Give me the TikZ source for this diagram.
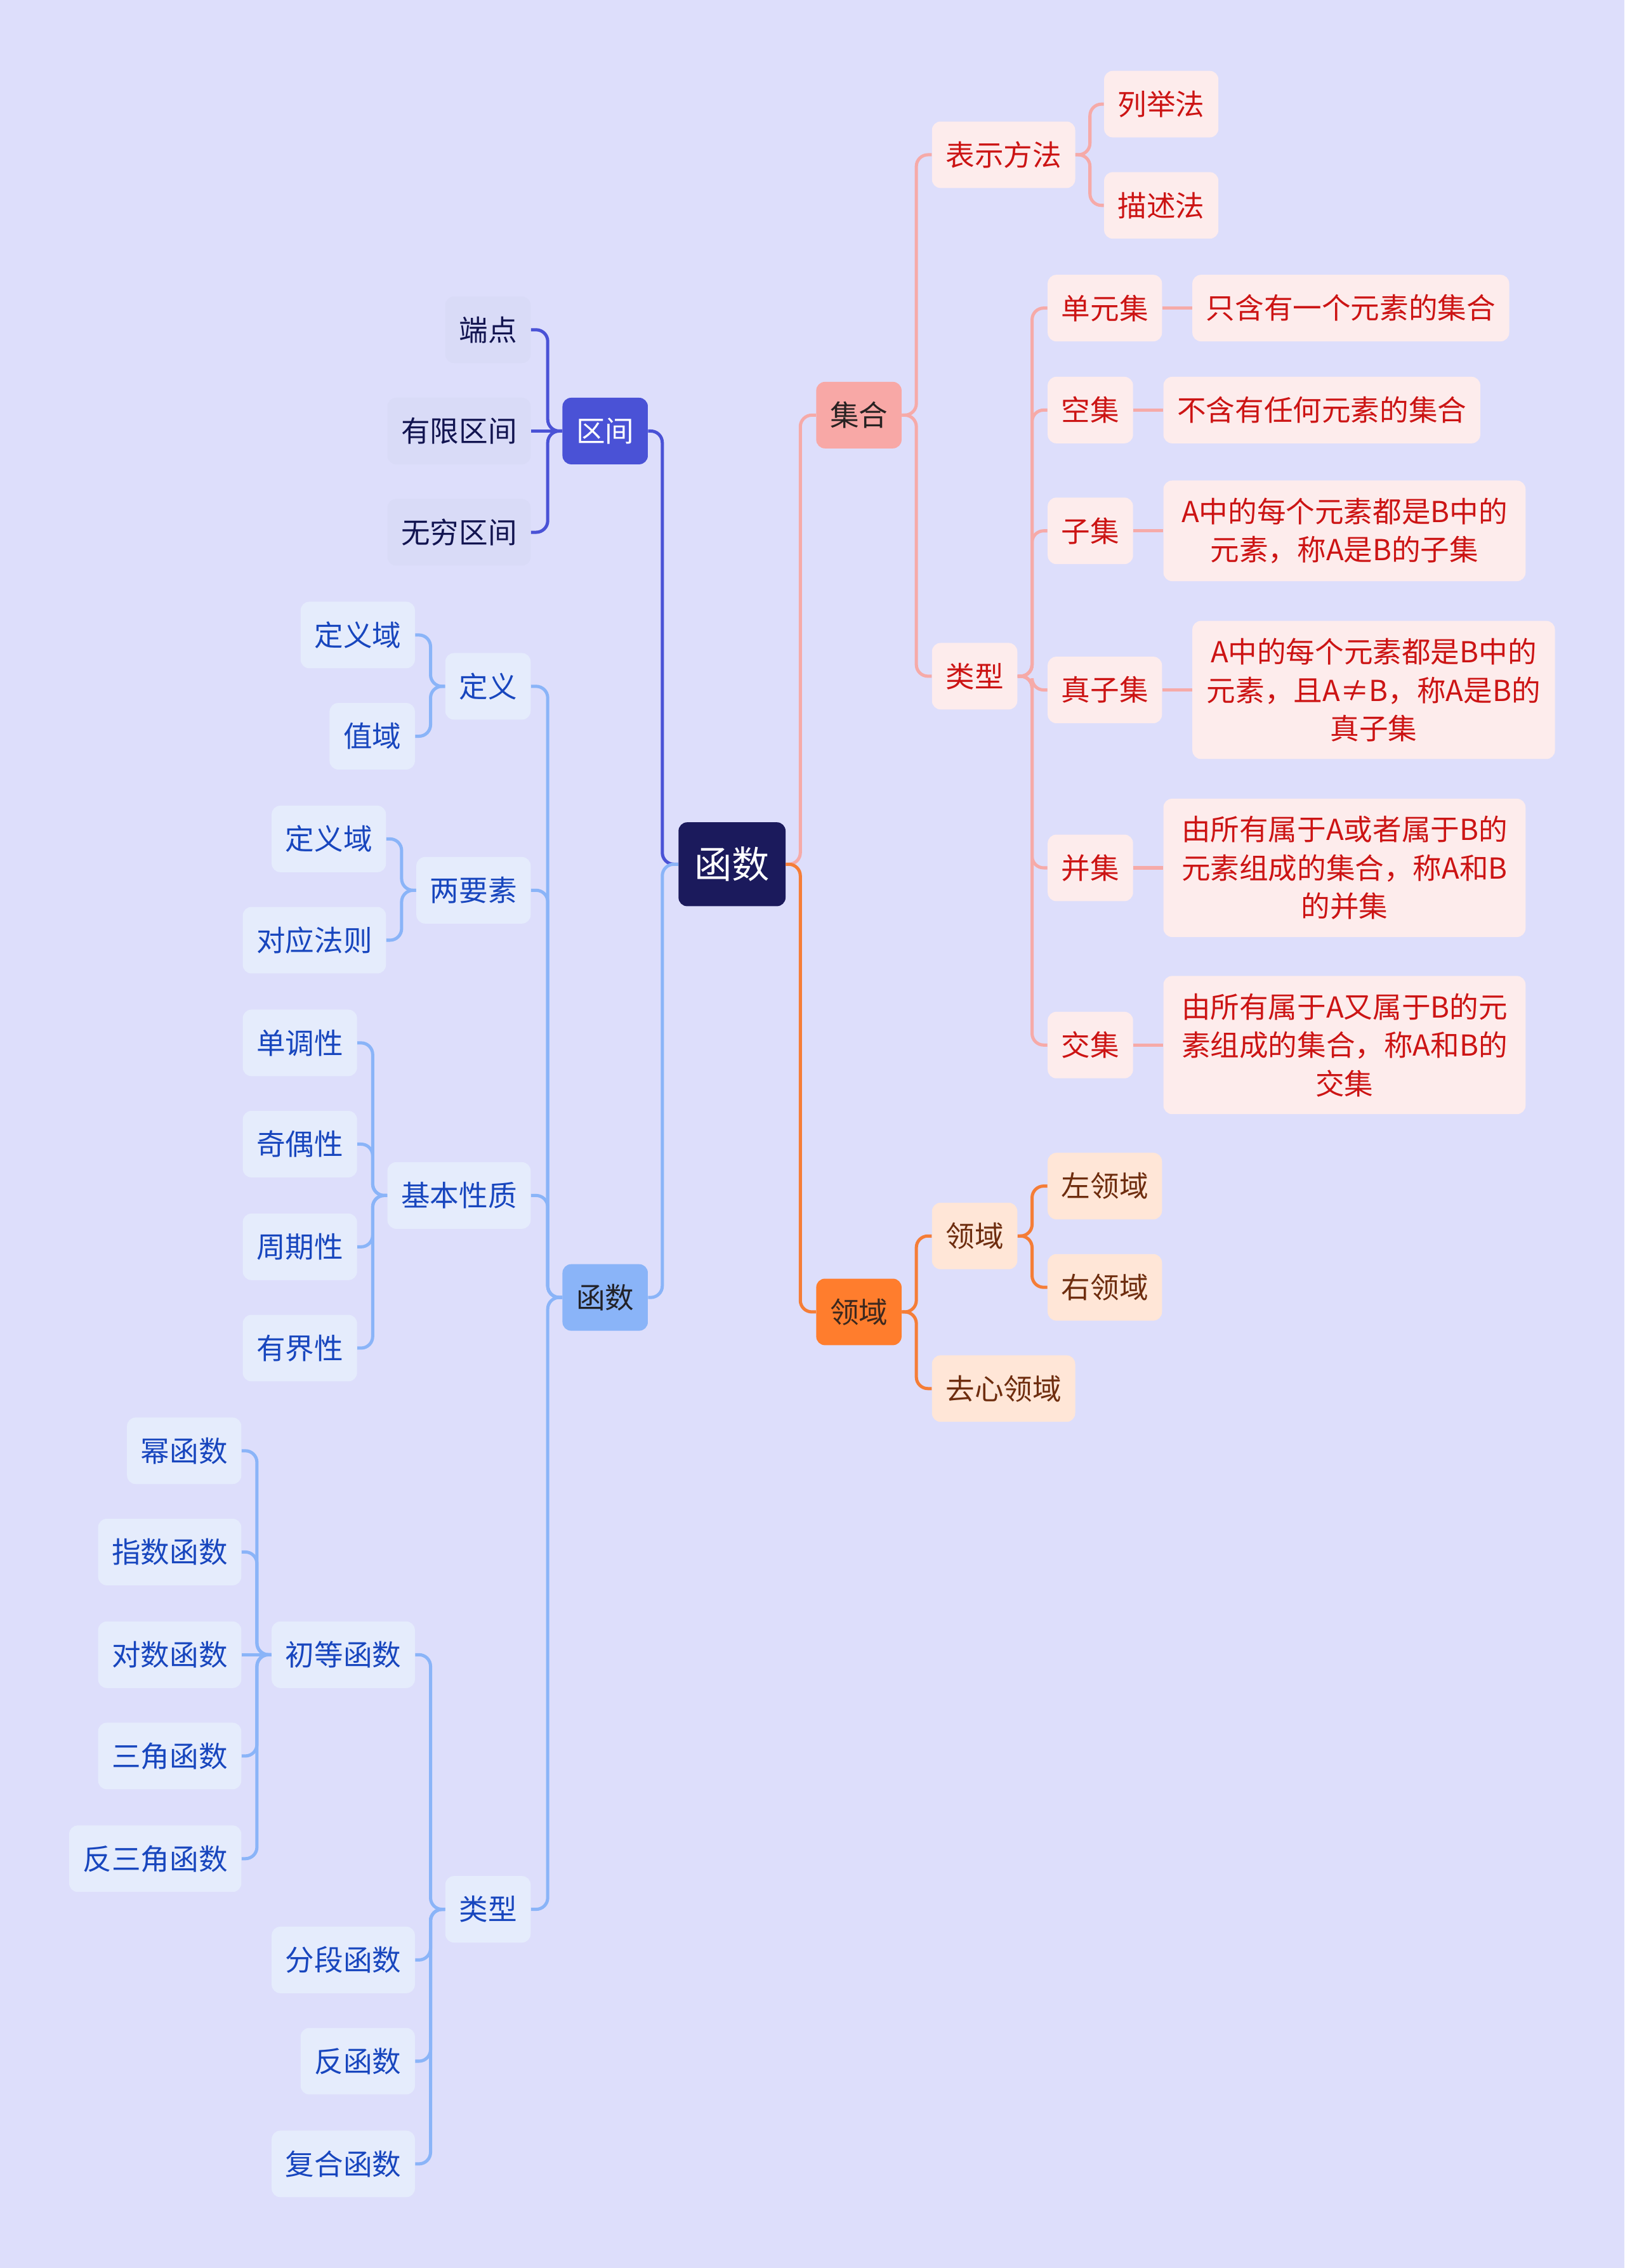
\documentclass[tikz,border=0pt]{standalone}
\usepackage{fontspec}
\setmainfont{Noto Sans CJK SC}
\definecolor{bgc}{RGB}{221,222,251}
\definecolor{rootc}{RGB}{27,26,92}
\definecolor{qjc}{RGB}{74,82,214}
\definecolor{qjleaf}{RGB}{217,219,247}
\definecolor{qjtext}{RGB}{18,20,80}
\definecolor{hsc}{RGB}{138,180,248}
\definecolor{hsleaf}{RGB}{229,236,252}
\definecolor{hstext}{RGB}{24,70,190}
\definecolor{hsdark}{RGB}{34,34,40}
\definecolor{jhc}{RGB}{248,168,166}
\definecolor{jhline}{RGB}{246,170,168}
\definecolor{jhleaf}{RGB}{253,236,236}
\definecolor{jhtext}{RGB}{204,20,20}
\definecolor{jhdark}{RGB}{40,34,34}
\definecolor{lyc}{RGB}{255,125,45}
\definecolor{lyline}{RGB}{245,125,55}
\definecolor{lyleaf}{RGB}{255,230,215}
\definecolor{lytext}{RGB}{110,45,15}
\definecolor{lydark}{RGB}{60,40,30}
\newcommand\lbranch[3]{\draw[#1] (#2.west) -- ++(-10,0) |- (#3.east);}
\newcommand\rbranch[3]{\draw[#1] (#2.east) -- ++(10,0) |- (#3.west);}
\begin{document}
\begin{tikzpicture}[x=1pt,y=-1pt,
  box/.style={rounded corners=6pt, minimum height=46pt, inner xsep=9.5pt, inner ysep=0pt, font=\fontsize{20}{26.5}\selectfont},
  multi/.style={box, align=center, inner ysep=12pt, inner xsep=12.5pt},
  rootbox/.style={rounded corners=6pt, fill=rootc, text=white, minimum height=58pt, inner xsep=11pt, font=\fontsize{26}{30}\selectfont},
  qjmain/.style={box, fill=qjc, text=white},
  qjsub/.style={box, fill=qjleaf, text=qjtext},
  hsmain/.style={box, fill=hsc, text=hsdark},
  hssub/.style={box, fill=hsleaf, text=hstext},
  jhmain/.style={box, fill=jhc, text=jhdark},
  jhsub/.style={box, fill=jhleaf, text=jhtext},
  lymain/.style={box, fill=lyc, text=lydark},
  lysub/.style={box, fill=lyleaf, text=lytext},
  cq/.style={draw=qjc, line width=2.2pt, rounded corners=8pt},
  ch/.style={draw=hsc, line width=2.2pt, rounded corners=8pt},
  cj/.style={draw=jhline, line width=2.2pt, rounded corners=8pt},
  cl/.style={draw=lyline, line width=2.2pt, rounded corners=8pt}
]
\fill[bgc] (0,0) rectangle (1123,1568);
\useasboundingbox (0,0) rectangle (1123,1568);

% root
\node[rootbox] (root) at (506,597.5) {函数};

% level 1
\node[qjmain, anchor=east] (qj) at (448,298) {区间};
\node[hsmain, anchor=east] (hs) at (448,897) {函数};
\node[jhmain, anchor=west] (jh) at (564,287) {集合};
\node[lymain, anchor=west] (ly) at (564,907) {领域};

% 区间 children
\node[qjsub, anchor=east] (dd) at (367,228) {端点};
\node[qjsub, anchor=east] (yxqj) at (367,298) {有限区间};
\node[qjsub, anchor=east] (wqqj) at (367,368) {无穷区间};

% 函数 children
\node[hssub, anchor=east] (dy) at (367,474.5) {定义};
\node[hssub, anchor=east] (lys) at (367,615.5) {两要素};
\node[hssub, anchor=east] (jbxz) at (367,826.5) {基本性质};
\node[hssub, anchor=east] (lxh) at (367,1320) {类型};

\node[hssub, anchor=east] (dyya) at (287,439) {定义域};
\node[hssub, anchor=east] (zy) at (287,509) {值域};

\node[hssub, anchor=east] (dyyb) at (267,580) {定义域};
\node[hssub, anchor=east] (dyfz) at (267,650) {对应法则};

\node[hssub, anchor=east] (ddx) at (247,721) {单调性};
\node[hssub, anchor=east] (joux) at (247,791) {奇偶性};
\node[hssub, anchor=east] (zqx) at (247,862) {周期性};
\node[hssub, anchor=east] (yjx) at (247,932) {有界性};

\node[hssub, anchor=east] (cdhs) at (287,1144) {初等函数};
\node[hssub, anchor=east] (fdhs) at (287,1355) {分段函数};
\node[hssub, anchor=east] (fhs) at (287,1425) {反函数};
\node[hssub, anchor=east] (fhhs) at (287,1496) {复合函数};

\node[hssub, anchor=east] (mhs) at (167,1003) {幂函数};
\node[hssub, anchor=east] (zshs) at (167,1073) {指数函数};
\node[hssub, anchor=east] (dshs) at (167,1144) {对数函数};
\node[hssub, anchor=east] (sjhs) at (167,1214) {三角函数};
\node[hssub, anchor=east] (fsjhs) at (167,1285) {反三角函数};

% 集合 children
\node[jhsub, anchor=west] (bsff) at (644,107) {表示方法};
\node[jhsub, anchor=west] (lxj) at (644,467.5) {类型};
\node[jhsub, anchor=west] (ljf) at (763,72) {列举法};
\node[jhsub, anchor=west] (msf) at (763,142) {描述法};

\node[jhsub, anchor=west] (dyj) at (724,213) {单元集};
\node[jhsub, anchor=west] (kj) at (724,283.5) {空集};
\node[jhsub, anchor=west] (zj) at (724,367) {子集};
\node[jhsub, anchor=west] (zzj) at (724,477) {真子集};
\node[jhsub, anchor=west] (bj) at (724,600) {并集};
\node[jhsub, anchor=west] (jj) at (724,722.5) {交集};

\node[jhsub, anchor=west] (dyjd) at (824,213) {只含有一个元素的集合};
\node[jhsub, anchor=west] (kjd) at (804,283.5) {不含有任何元素的集合};
\node[jhsub, multi, anchor=west] (zjd) at (804,367) {A中的每个元素都是B中的\\元素，称A是B的子集};
\node[jhsub, multi, inner xsep=10pt, anchor=west] (zzjd) at (824,477) {A中的每个元素都是B中的\\元素，且A≠B，称A是B的\\真子集};
\node[jhsub, multi, anchor=west] (bjd) at (804,600) {由所有属于A或者属于B的\\元素组成的集合，称A和B\\的并集};
\node[jhsub, multi, anchor=west] (jjd) at (804,722.5) {由所有属于A又属于B的元\\素组成的集合，称A和B的\\交集};

% 领域 children
\node[lysub, anchor=west] (lyb) at (644,854.5) {领域};
\node[lysub, anchor=west] (qxly) at (644,960) {去心领域};
\node[lysub, anchor=west] (zly) at (724,820) {左领域};
\node[lysub, anchor=west] (yly) at (724,890) {右领域};

% connectors: root
\draw[cq] (root.west) -- ++(-11,0) |- (qj.east);
\draw[ch] (root.west) -- ++(-11,0) |- (hs.east);
\draw[cj] (root.east) -- ++(10,0) |- (jh.west);
\draw[cl] (root.east) -- ++(10,0) |- (ly.west);

% 区间
\lbranch{cq}{qj}{dd}
\draw[cq] (qj.west) -- (yxqj.east);
\lbranch{cq}{qj}{wqqj}

% 函数
\lbranch{ch}{hs}{dy}
\lbranch{ch}{hs}{lys}
\lbranch{ch}{hs}{jbxz}
\lbranch{ch}{hs}{lxh}
\lbranch{ch}{dy}{dyya}
\lbranch{ch}{dy}{zy}
\lbranch{ch}{lys}{dyyb}
\lbranch{ch}{lys}{dyfz}
\lbranch{ch}{jbxz}{ddx}
\lbranch{ch}{jbxz}{joux}
\lbranch{ch}{jbxz}{zqx}
\lbranch{ch}{jbxz}{yjx}
\lbranch{ch}{lxh}{cdhs}
\lbranch{ch}{lxh}{fdhs}
\lbranch{ch}{lxh}{fhs}
\lbranch{ch}{lxh}{fhhs}
\lbranch{ch}{cdhs}{mhs}
\lbranch{ch}{cdhs}{zshs}
\draw[ch] (cdhs.west) -- (dshs.east);
\lbranch{ch}{cdhs}{sjhs}
\lbranch{ch}{cdhs}{fsjhs}

% 集合
\rbranch{cj}{jh}{bsff}
\rbranch{cj}{jh}{lxj}
\rbranch{cj}{bsff}{ljf}
\rbranch{cj}{bsff}{msf}
\rbranch{cj}{lxj}{dyj}
\rbranch{cj}{lxj}{kj}
\rbranch{cj}{lxj}{zj}
\rbranch{cj}{lxj}{zzj}
\rbranch{cj}{lxj}{bj}
\rbranch{cj}{lxj}{jj}
\draw[cj] (dyj.east) -- (dyjd.west);
\draw[cj] (kj.east) -- (kjd.west);
\draw[cj] (zj.east) -- (zjd.west);
\draw[cj] (zzj.east) -- (zzjd.west);
\draw[cj] (bj.east) -- (bjd.west);
\draw[cj] (jj.east) -- (jjd.west);

% 领域
\rbranch{cl}{ly}{lyb}
\rbranch{cl}{ly}{qxly}
\rbranch{cl}{lyb}{zly}
\rbranch{cl}{lyb}{yly}
\end{tikzpicture}
\end{document}
